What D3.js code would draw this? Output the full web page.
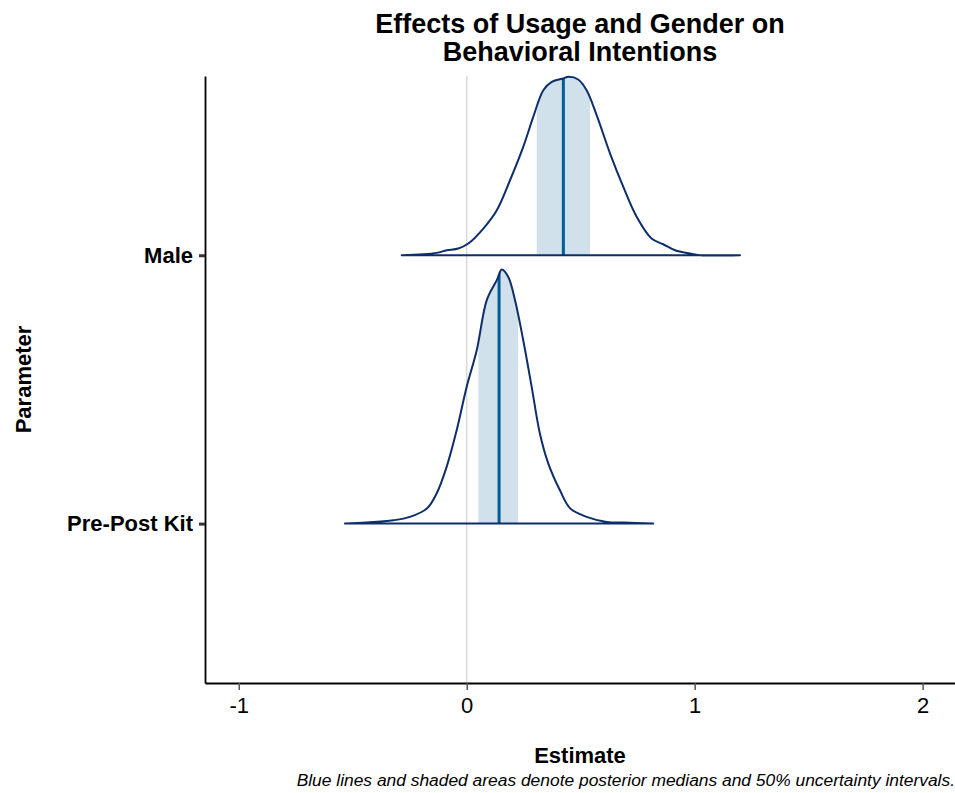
<!DOCTYPE html>
<html>
<head>
<meta charset="utf-8">
<script src="https://cdn.jsdelivr.net/npm/d3@7/dist/d3.min.js"></script>
<style>
  body { margin: 0; background: #fff; }
  svg { display: block; font-family: "Liberation Sans", Arial, sans-serif; }
</style>
</head>
<body>
<svg id="chart" width="955" height="793"></svg>
<script>
// parameters, bottom to top
var params = ["Pre-Post Kit", "Male"];
var xTicks = [-1, 0, 1, 2];

// posterior density curves
var maleX = [-0.285, -0.132, -0.088, -0.037, 0.007, 0.073, 0.132, 0.190, 0.248, 0.292, 0.336, 0.373, 0.424, 0.446, 0.489, 0.526, 0.570, 0.629, 0.687, 0.746, 0.811, 0.862, 0.914, 0.979, 1.023, 1.199];
var maleD = [0, 0.03, 0.063, 0.085, 0.148, 0.337, 0.568, 0.946, 1.367, 1.745, 2.082, 2.187, 2.230, 2.25, 2.217, 2.082, 1.767, 1.283, 0.862, 0.483, 0.211, 0.139, 0.063, 0.021, 0, 0];
var kitX = [-0.534, -0.439, -0.322, -0.249, -0.175, -0.132, -0.088, -0.044, 0, 0.044, 0.088, 0.132, 0.154, 0.182, 0.212, 0.248, 0.285, 0.321, 0.358, 0.409, 0.455, 0.526, 0.614, 0.687, 0.818];
var kitD = [0, 0.013, 0.042, 0.085, 0.189, 0.379, 0.716, 1.177, 1.725, 2.187, 2.818, 3.070, 3.205, 3.113, 2.818, 2.313, 1.725, 1.136, 0.757, 0.420, 0.189, 0.085, 0.021, 0.013, 0];

// medians and 50% intervals
var medians = [0.142, 0.424];
var intLow = [0.051, 0.307];
var intHigh = [0.226, 0.541];

var svg = d3.select("#chart");
var pLeft = 205, pRight = 955, pTop = 76, pBottom = 683;

var x = d3.scaleLinear().domain([-1.148, 2.142]).range([pLeft, pRight]);
var y = d3.scaleLinear().domain([0.406, 2.668]).range([pBottom, pTop]);
var maxD = d3.max(maleD.concat(kitD));
var h = d3.scaleLinear().domain([0, maxD]).range([0, 0.947]);

var series = [
  { name: params[0], xs: kitX, ds: kitD },
  { name: params[1], xs: maleX, ds: maleD }
];

// zero reference line
svg.append("line")
  .attr("x1", x(0)).attr("x2", x(0))
  .attr("y1", pTop).attr("y2", pBottom)
  .attr("stroke", "#d9d9d9").attr("stroke-width", 1.5);

var defs = svg.append("defs");

series.forEach(function (s, i) {
  var pos = i + 1;
  var pts = s.xs.map(function (v, j) { return [v, s.ds[j]]; });
  var area = d3.area()
    .x(function (d) { return x(d[0]); })
    .y0(y(pos))
    .y1(function (d) { return y(pos + h(d[1])); })
    .curve(d3.curveCatmullRom);

  defs.append("clipPath").attr("id", "int-" + i)
    .append("rect")
    .attr("x", x(intLow[i])).attr("width", x(intHigh[i]) - x(intLow[i]))
    .attr("y", pTop).attr("height", pBottom - pTop);
  defs.append("clipPath").attr("id", "dens-" + i)
    .append("path").attr("d", area(pts));

  // shaded 50% interval
  svg.append("path")
    .attr("d", area(pts))
    .attr("fill", "#d1e1ec")
    .attr("clip-path", "url(#int-" + i + ")");

  // median line
  svg.append("line")
    .attr("x1", x(medians[i])).attr("x2", x(medians[i]))
    .attr("y1", y(pos)).attr("y2", pTop)
    .attr("stroke", "#005b96").attr("stroke-width", 3)
    .attr("clip-path", "url(#dens-" + i + ")");

  // outline
  svg.append("path")
    .attr("d", area(pts))
    .attr("fill", "none")
    .attr("stroke", "#0d2d6b").attr("stroke-width", 2)
    .attr("stroke-linejoin", "round");
});

// axes
var xAxis = svg.append("g")
  .attr("transform", "translate(0," + pBottom + ")")
  .call(d3.axisBottom(x).tickValues(xTicks).tickFormat(function (d) { return String(d); })
    .tickSize(7).tickPadding(7).tickSizeOuter(0));
xAxis.attr("font-size", 22).attr("font-family", null);
xAxis.select(".domain").attr("stroke", "#000").attr("stroke-width", 1.8);
xAxis.selectAll(".tick line").attr("stroke", "#555").attr("stroke-width", 1.5);
xAxis.selectAll(".tick text").attr("fill", "#000");

var yAxis = svg.append("g")
  .attr("transform", "translate(" + pLeft + ",0)")
  .call(d3.axisLeft(y).tickValues([1, 2]).tickFormat(function (d) { return params[d - 1]; })
    .tickSize(6).tickPadding(6).tickSizeOuter(0));
yAxis.attr("font-size", 22).attr("font-weight", "bold").attr("font-family", null);
yAxis.select(".domain").attr("stroke", "#000").attr("stroke-width", 1.8);
yAxis.selectAll(".tick line").attr("stroke", "#333").attr("stroke-width", 3);
yAxis.selectAll(".tick text").attr("fill", "#000");

// titles
var cx = (pLeft + pRight) / 2;
svg.append("text").attr("x", cx).attr("y", 33).attr("text-anchor", "middle")
  .attr("font-size", 27).attr("font-weight", "bold").text("Effects of Usage and Gender on");
svg.append("text").attr("x", cx).attr("y", 61).attr("text-anchor", "middle")
  .attr("font-size", 27).attr("font-weight", "bold").text("Behavioral Intentions");

svg.append("text").attr("x", cx).attr("y", 763).attr("text-anchor", "middle")
  .attr("font-size", 22).attr("font-weight", "bold").text("Estimate");

svg.append("text")
  .attr("transform", "translate(31," + ((pTop + pBottom) / 2) + ") rotate(-90)")
  .attr("text-anchor", "middle")
  .attr("font-size", 22).attr("font-weight", "bold").text("Parameter");

svg.append("text").attr("x", 955).attr("y", 786).attr("text-anchor", "end")
  .attr("font-size", 17.4).attr("font-style", "italic")
  .text("Blue lines and shaded areas denote posterior medians and 50% uncertainty intervals.");
</script>
</body>
</html>
